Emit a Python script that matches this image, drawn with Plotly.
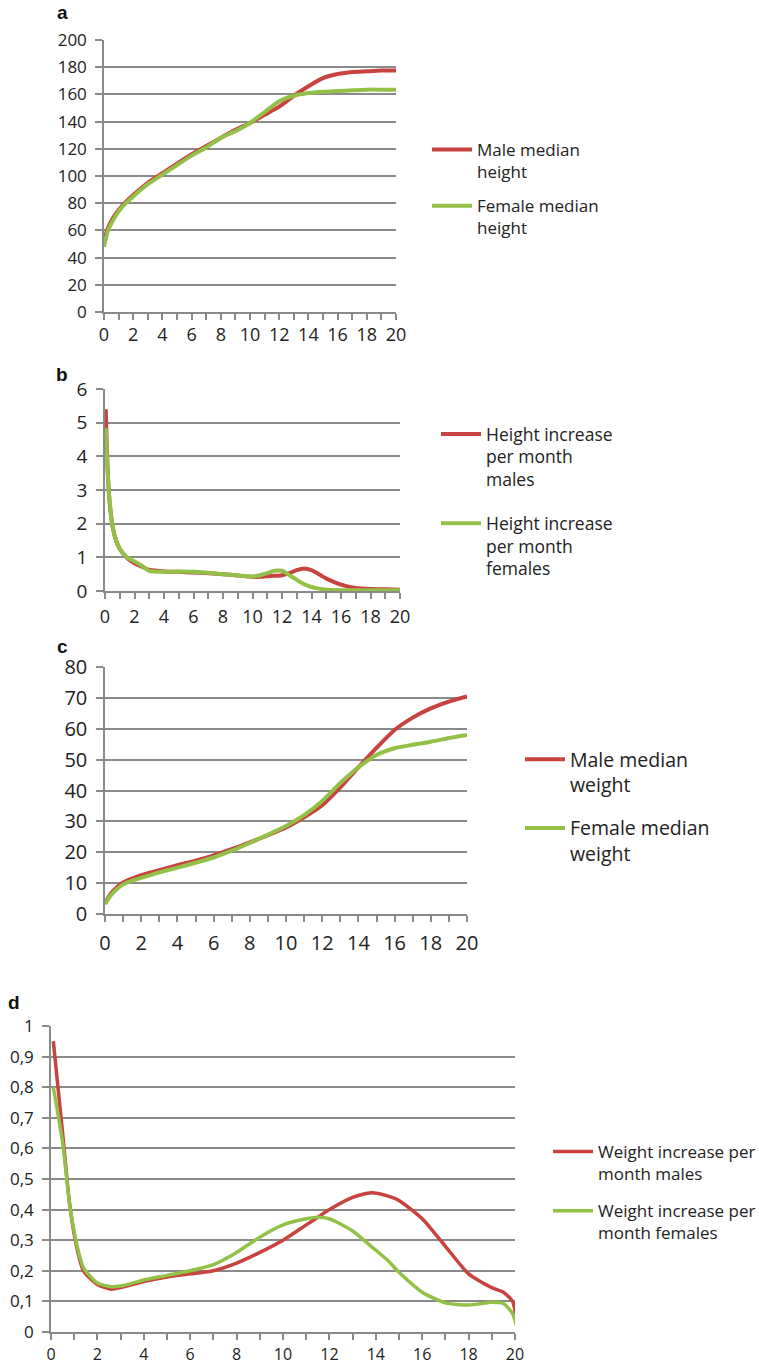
import plotly.graph_objects as go

W, H = 759, 1367
RED = '#C8423F'
GREEN = '#93C147'
GRID = '#8A8A8A'
TXT = '#222222'
FONT = 'Open Sans'

# ---------------- data ----------------
# a: median height (cm) by age (years)
age_a = [0, 0.25, 0.5, 1, 1.5, 2, 3, 4, 5, 6, 7, 8, 9, 10, 11, 12, 13, 14, 15, 16, 17, 18, 19, 20]
male_height = [53, 61, 67, 75, 81, 86, 95, 102, 109, 116, 122, 128, 134, 139, 145, 151, 159, 166, 172, 175, 176.5, 177, 177.5, 177.5]
female_height = [48, 59, 65, 74, 80, 85, 94, 101, 108, 115, 121, 128, 133, 139, 147, 155, 159, 161, 162, 162.5, 163, 163.5, 163.5, 163.5]

# b: height increase per month (cm)
age_b = [0.05, 0.12, 0.2, 0.3, 0.5, 0.75, 1, 1.5, 2, 2.5, 3, 4, 5, 6, 7, 8, 9, 10, 10.5, 11, 11.5, 12, 12.5,
         13, 13.5, 14, 14.5, 15, 15.5, 16, 16.5, 17, 18, 19, 20]
male_height_inc = [5.4, 4.3, 3.4, 2.7, 1.95, 1.5, 1.25, 0.98, 0.82, 0.72, 0.63, 0.58, 0.57, 0.55, 0.53, 0.5, 0.46, 0.42,
                   0.42, 0.44, 0.45, 0.47, 0.53, 0.62, 0.67, 0.62, 0.5, 0.37, 0.27, 0.19, 0.13, 0.09, 0.06, 0.05, 0.04]
female_height_inc = [4.85, 4.1, 3.4, 2.75, 1.95, 1.5, 1.25, 1.0, 0.88, 0.75, 0.6, 0.57, 0.58, 0.57, 0.54, 0.5, 0.46, 0.43,
                     0.47, 0.53, 0.6, 0.6, 0.47, 0.33, 0.2, 0.12, 0.07, 0.04, 0.03, 0.02, 0.02, 0.02, 0.02, 0.02, 0.02]

# c: median weight (kg)
age_c = [0, 0.25, 0.5, 1, 1.5, 2, 3, 4, 5, 6, 7, 8, 9, 10, 11, 12, 13, 14, 15, 16, 17, 18, 19, 20]
male_weight = [3.5, 6, 7.8, 10.2, 11.5, 12.6, 14.2, 15.8, 17.3, 19, 21, 23.2, 25.5, 28, 31.3, 35.2, 41, 47.5, 53.8,
               59.6, 63.6, 66.6, 68.8, 70.5]
female_weight = [3.2, 5.5, 7.2, 9.6, 10.8, 11.7, 13.5, 15, 16.6, 18.3, 20.5, 23, 25.7, 28.5, 32, 36.6, 42.4, 47.5,
                 51.5, 53.7, 54.8, 55.8, 57, 58]

# d: weight increase per month (kg)
age_d = [0.1, 0.5, 0.8, 1.1, 1.4, 2, 2.6, 3, 4, 5, 6, 7, 8, 9, 10, 11, 11.5, 12, 13, 13.8, 14.5, 15, 16, 17, 18,
         19, 19.5, 19.9, 20.05]
male_weight_inc = [0.95, 0.65, 0.42, 0.28, 0.2, 0.155, 0.14, 0.145, 0.165, 0.18, 0.19, 0.2, 0.225, 0.26, 0.3, 0.35,
                   0.375, 0.4, 0.44, 0.455, 0.445, 0.43, 0.37, 0.28, 0.19, 0.145, 0.13, 0.1, 0.045]
female_weight_inc = [0.8, 0.62, 0.42, 0.29, 0.21, 0.16, 0.148, 0.15, 0.17, 0.185, 0.2, 0.22, 0.26, 0.31, 0.35, 0.37,
                     0.375, 0.37, 0.33, 0.28, 0.235, 0.195, 0.13, 0.095, 0.088, 0.097, 0.093, 0.06, 0.023]

x_ticks = list(range(0, 21, 2))
d_tickvals = [0, 0.1, 0.2, 0.3, 0.4, 0.5, 0.6, 0.7, 0.8, 0.9, 1]
d_ticktext = ['0', '0,1', '0,2', '0,3', '0,4', '0,5', '0,6', '0,7', '0,8', '0,9', '1']

legend_names = {
    'a': ['Male median<br>height', 'Female median<br>height'],
    'b': ['Height increase<br>per month<br>males', 'Height increase<br>per month<br>females'],
    'c': ['Male median<br>weight', 'Female median<br>weight'],
    'd': ['Weight increase per<br>month males', 'Weight increase per<br>month females'],
}

# ---------------- figure ----------------
fig = go.Figure()

panels = [
    # key, axis suffix, x px, y px (top, bottom), yrange, ydtick, y tick font, x tick font, x standoff, line width, legend
    ('a', '', (104, 396), (40, 312), [0, 200], 20, 17, 18, 0, 4, 'legend'),
    ('b', '2', (105, 400), (389, 591), [0, 6], 1, 19, 18, 3, 4, 'legend2'),
    ('c', '3', (105, 467), (667, 914), [0, 80], 10, 20, 20, 4, 4, 'legend3'),
    ('d', '4', (51, 515), (1026, 1332), [0, 1], 0.1, 17, 16, 1, 3.5, 'legend4'),
]
series = {
    'a': (age_a, male_height, female_height),
    'b': (age_b, male_height_inc, female_height_inc),
    'c': (age_c, male_weight, female_weight),
    'd': (age_d, male_weight_inc, female_weight_inc),
}

layout = {}
for key, sfx, (x0, x1), (ytop, ybot), yr, ydt, yfs, xfs, xso, lw, leg in panels:
    xs, m, f = series[key]
    for i, (vals, col) in enumerate([(m, RED), (f, GREEN)]):
        fig.add_trace(go.Scatter(
            x=xs, y=vals, mode='lines', name=legend_names[key][i],
            line=dict(color=col, width=lw, shape='spline', smoothing=0.6),
            xaxis='x' + sfx, yaxis='y' + sfx, legend=leg, legendgroup=key + str(i),
            showlegend=True))
    xa = dict(domain=[x0 / W, x1 / W], anchor='y' + sfx, range=[0, 20], automargin=False,
              tickvals=x_ticks, ticks='outside', ticklen=6, tickwidth=1.5, tickcolor=GRID,
              minor=dict(dtick=1, tick0=0, ticks='outside', ticklen=6, tickwidth=1.5, tickcolor=GRID),
              showline=True, linecolor=GRID, linewidth=1.5, showgrid=False, zeroline=False,
              ticklabelstandoff=xso,
              tickfont=dict(family=FONT, size=xfs, color=TXT), fixedrange=True)
    ya = dict(domain=[1 - ybot / H, 1 - ytop / H], anchor='x' + sfx, range=yr, dtick=ydt, tick0=0,
              automargin=False, ticks='outside', ticklen=7, tickwidth=1.5, tickcolor=GRID,
              showline=True, linecolor=GRID, linewidth=1.5, showgrid=True, gridcolor=GRID, gridwidth=1.5,
              zeroline=False, ticklabelstandoff=5,
              tickfont=dict(family=FONT, size=yfs, color=TXT), fixedrange=True)
    if key == 'd':
        ya['tickvals'] = d_tickvals
        ya['ticktext'] = d_ticktext
    layout['xaxis' + sfx] = xa
    layout['yaxis' + sfx] = ya

legend_specs = {
    'legend': dict(x=427 / W, y=1 - 132 / H, font=dict(family=FONT, size=17, color=TXT), tracegroupgap=9),
    'legend2': dict(x=436 / W, y=1 - 416 / H, font=dict(family=FONT, size=17.5, color=TXT), tracegroupgap=18),
    'legend3': dict(x=520 / W, y=1 - 740 / H, font=dict(family=FONT, size=19.5, color=TXT), tracegroupgap=15),
    'legend4': dict(x=548 / W, y=1 - 1134 / H, font=dict(family=FONT, size=17, color=TXT), tracegroupgap=12),
}
for k, spec in legend_specs.items():
    layout[k] = dict(xanchor='left', yanchor='top', valign='top', bgcolor='rgba(0,0,0,0)',
                     borderwidth=0, itemclick=False, itemdoubleclick=False, itemwidth=40, **spec)

annotations = []
for lbl, (ax, ay) in {'a': (62, 13), 'b': (62, 375), 'c': (62, 646), 'd': (14, 1003)}.items():
    annotations.append(dict(text='<b>' + lbl + '</b>', x=ax / W, y=1 - ay / H, xref='paper', yref='paper',
                            showarrow=False, xanchor='center', yanchor='middle',
                            font=dict(family='Liberation Sans', size=19, color='#111111')))

fig.update_layout(width=W, height=H, margin=dict(l=0, r=0, t=0, b=0, pad=0, autoexpand=False),
                  paper_bgcolor='white', plot_bgcolor='white', annotations=annotations, **layout)

fig.write_html('out.html', config=dict(displayModeBar=False),
               post_script="document.body.style.margin='0px';document.body.style.overflow='hidden';")
